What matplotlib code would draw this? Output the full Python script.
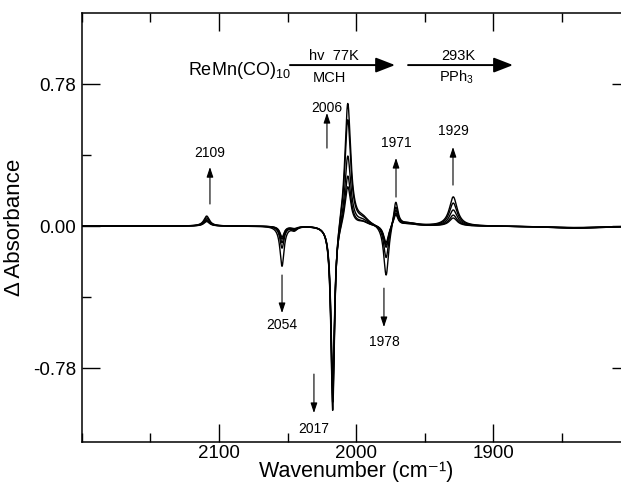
import numpy as np
import matplotlib
matplotlib.use('Agg')
import matplotlib.pyplot as plt
from matplotlib.ticker import MultipleLocator, FixedLocator

plt.rcParams['font.family'] = ['Liberation Sans', 'DejaVu Sans']
plt.rcParams['mathtext.fontset'] = 'custom'
plt.rcParams['mathtext.rm'] = 'Liberation Sans'
plt.rcParams['mathtext.it'] = 'Liberation Sans:italic'
plt.rcParams['mathtext.bf'] = 'Liberation Sans:bold'

# ---------------- data ----------------
# band centres (cm-1) and half widths (cm-1)
band_centers = [2109, 2054, 2045, 2017, 2006, 1995, 1978, 1971, 1962, 1929, 1840]
band_hwhm    = [2.5,  1.8,  2.5,  1.6,  2.6,  5.0,  2.2,  2.0,  8.0,  3.5,  25.0]
# band amplitudes (delta absorbance) in each of the five difference spectra
amp_2109 = [0.055, 0.045, 0.035, 0.030, 0.025]
amp_2054 = [-0.22, -0.12, -0.09, -0.07, -0.06]
amp_2045 = [-0.02, -0.02, -0.015, -0.015, -0.01]
amp_2017 = [-1.05, -1.00, -0.95, -0.90, -0.85]
amp_2006 = [0.69, 0.60, 0.40, 0.29, 0.23]
amp_1995 = [0.035, 0.030, 0.025, 0.020, 0.020]
amp_1978 = [-0.29, -0.19, -0.13, -0.115, -0.10]
amp_1971 = [0.145, 0.11, 0.09, 0.075, 0.065]
amp_1962 = [0.015, 0.015, 0.015, 0.012, 0.012]
amp_1929 = [0.16, 0.126, 0.088, 0.06, 0.044]
amp_1840 = [-0.012, -0.012, -0.010, -0.010, -0.008]

band_amps = [amp_2109, amp_2054, amp_2045, amp_2017, amp_2006, amp_1995,
             amp_1978, amp_1971, amp_1962, amp_1929, amp_1840]

# peak labels: text, arrow x (cm-1), arrow tail y, arrow head y, text y
label_texts  = ['2109', '2006', '2054', '2017', '1978', '1971', '1929']
label_x      = [2106.6, 2021.2, 2054.0, 2030.7, 1979.6, 1970.8, 1929.2]
label_tail_y = [0.121, 0.428, -0.269, -0.813, -0.341, 0.159, 0.225]
label_head_y = [0.324, 0.621, -0.478, -1.027, -0.555, 0.374, 0.434]
label_text_y = [0.401, 0.648, -0.544, -1.115, -0.637, 0.456, 0.522]

ytick_vals = [-0.78, 0.0, 0.78]
ytick_labels = ['-0.78', '0.00', '0.78']
xtick_vals = [2100, 2000, 1900]

# ---------------- figure ----------------
W, H = 621, 488
fig = plt.figure(figsize=(W / 100, H / 100), dpi=100)
ax = fig.add_axes([82 / W, 1 - 442 / H, 548 / W, 429 / H])

wn = np.linspace(2200, 1800, 6000)
n_traces = len(amp_2006)
for t in range(n_traces):
    y = np.zeros_like(wn)
    for c, w, a in zip(band_centers, band_hwhm, band_amps):
        y += a[t] / (1.0 + ((wn - c) / w) ** 2)
    ax.plot(wn, y, color='black', lw=1.0)

ax.set_xlim(2200, 1800)
ax.set_ylim(-1.186, 1.170)

ax.xaxis.set_major_locator(FixedLocator(xtick_vals))
ax.xaxis.set_minor_locator(MultipleLocator(50))
ax.yaxis.set_major_locator(FixedLocator(ytick_vals))
ax.set_yticklabels(ytick_labels)
ax.yaxis.set_minor_locator(FixedLocator([-0.39, 0.39]))
ax.tick_params(which='both', direction='in', top=True, right=True,
               labelsize=13.5, width=1.0, color='black')
ax.tick_params(which='major', length=13)
ax.tick_params(which='minor', length=6.5)
ax.tick_params(axis='x', pad=2.5)
ax.tick_params(axis='y', pad=4)
for s in ax.spines.values():
    s.set_linewidth(1.1)

ax.set_xlabel('Wavenumber (cm⁻¹)', fontsize=15.5, labelpad=-1)
ax.set_ylabel('Δ Absorbance', fontsize=16, labelpad=6)

# peak labels with arrows
for txt, x, yt, yh, ytx in zip(label_texts, label_x, label_tail_y, label_head_y, label_text_y):
    ax.annotate('', xy=(x, yh), xytext=(x, yt),
                arrowprops=dict(arrowstyle='-|>,head_length=0.6,head_width=0.2',
                                mutation_scale=10, lw=0.8, color='black',
                                shrinkA=0, shrinkB=0))
    ax.text(x, ytx, txt, ha='center', va='center', fontsize=10)

# reaction scheme
ax.text(2122.6, 0.832, 'ReMn(CO)$_{10}$', ha='left', va='baseline', fontsize=13)
ax.annotate('', xy=(1971.5, 0.884), xytext=(2048.2, 0.884),
            arrowprops=dict(arrowstyle='-|>,head_length=0.9,head_width=0.35',
                            mutation_scale=13, lw=1.4, color='black',
                            shrinkA=0, shrinkB=0))
ax.annotate('', xy=(1885.4, 0.884), xytext=(1962.0, 0.884),
            arrowprops=dict(arrowstyle='-|>,head_length=0.9,head_width=0.35',
                            mutation_scale=13, lw=1.4, color='black',
                            shrinkA=0, shrinkB=0))
ax.text(2016.1, 0.912, 'hv  77K', ha='center', va='baseline', fontsize=10.5)
ax.text(2019.7, 0.791, 'MCH', ha='center', va='baseline', fontsize=10.5)
ax.text(1925.5, 0.912, '293K', ha='center', va='baseline', fontsize=10.5)
ax.text(1926.3, 0.791, 'PPh$_3$', ha='center', va='baseline', fontsize=10.5)

fig.savefig('out.png', dpi=100)
